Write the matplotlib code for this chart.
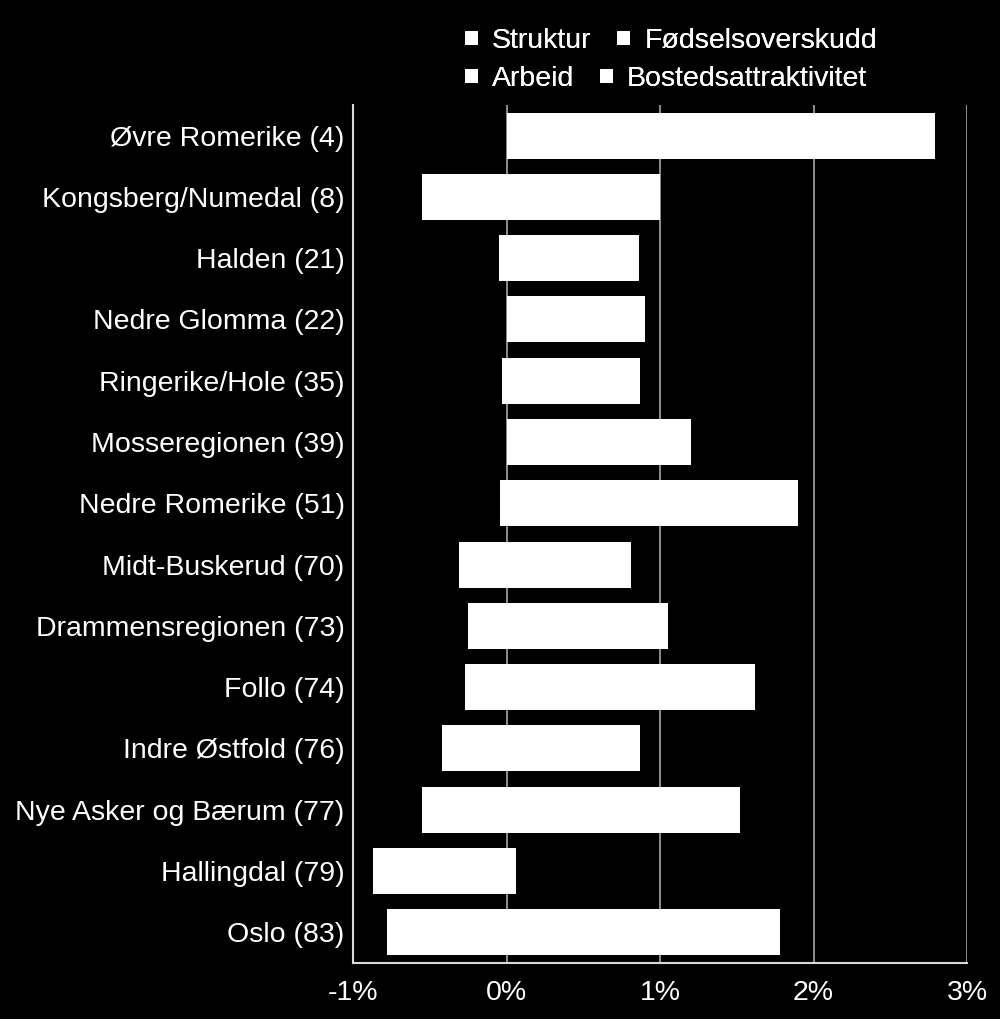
import matplotlib.pyplot as plt
import numpy as np
from matplotlib.patches import Patch
from matplotlib.ticker import FuncFormatter

plt.rcParams['font.family'] = ['Liberation Sans', 'DejaVu Sans']

regions = ["Øvre Romerike (4)", "Kongsberg/Numedal (8)", "Halden (21)", "Nedre Glomma (22)",
           "Ringerike/Hole (35)", "Mosseregionen (39)", "Nedre Romerike (51)",
           "Midt-Buskerud (70)", "Drammensregionen (73)", "Follo (74)",
           "Indre Østfold (76)", "Nye Asker og Bærum (77)", "Hallingdal (79)", "Oslo (83)"]

# percent, one value per region
struktur = [0.35, -0.30, -0.05, 0.05, -0.03, 0.10, 0.30, 0.05, 0.20, 0.25, -0.10, 0.30, -0.20, 0.45]
fodsel = [0.45, -0.25, 0.10, 0.20, 0.12, 0.25, 0.55, 0.16, 0.35, 0.45, 0.15, 0.50, 0.06, 1.33]
arbeid = [0.90, 0.55, 0.30, 0.25, 0.35, 0.40, 1.05, -0.31, 0.505, 0.92, -0.32, 0.72, -0.32, -0.10]
bosted = [1.09, 0.45, 0.46, 0.405, 0.40, 0.45, -0.04, 0.60, -0.25, -0.27, 0.72, -0.55, -0.35, -0.68]

series = [("Struktur", struktur), ("Fødselsoverskudd", fodsel),
          ("Arbeid", arbeid), ("Bostedsattraktivitet", bosted)]

fig = plt.figure(figsize=(10, 10.19), dpi=100, facecolor='black')
ax = fig.add_axes([0.353, 0.055, 0.614, 0.842], facecolor='black')

y = np.arange(len(regions))
pos_left = np.zeros(len(regions))
neg_left = np.zeros(len(regions))
for name, vals in series:
    vals = np.array(vals)
    left = np.where(vals >= 0, pos_left, neg_left)
    ax.barh(y, vals, left=left, height=0.75, color='white', edgecolor='none', zorder=3)
    pos_left += np.clip(vals, 0, None)
    neg_left += np.clip(vals, None, 0)

ax.set_xlim(-1, 3)
ax.set_ylim(len(regions) - 0.5, -0.5)
ax.set_xticks([-1, 0, 1, 2, 3])
ax.xaxis.set_major_formatter(FuncFormatter(lambda v, _: f"{v:.0f}%"))
ax.set_yticks(y)
ax.set_yticklabels(regions)

ax.grid(axis='x', color='#a6a6a6', linewidth=1.2, zorder=1)
ax.tick_params(colors='white', labelsize=20.5, length=0, pad=6)
ax.tick_params(axis='x', pad=12)
for side in ['top', 'right']:
    ax.spines[side].set_visible(False)
for side in ['left', 'bottom']:
    ax.spines[side].set_color('#d9d9d9')
    ax.spines[side].set_linewidth(1.5)

# legend flows row by row, like the original (two rows, left aligned)
handles = [Patch(facecolor='white', label=name) for name, _ in series]
legend_rows = [(handles[:2], 1 - 41 / 1019), (handles[2:], 1 - 79 / 1019)]
for row, ypos in legend_rows:
    leg = fig.legend(row, [h.get_label() for h in row], loc='center left',
                     bbox_to_anchor=(0.465, ypos), ncol=2, frameon=False,
                     borderpad=0, borderaxespad=0,
                     fontsize=20.5, labelcolor='white', handlelength=0.45, handleheight=0.4,
                     handletextpad=0.5, columnspacing=0.9)
    fig.add_artist(leg)

fig.savefig('out.png', dpi=100, facecolor='black')
